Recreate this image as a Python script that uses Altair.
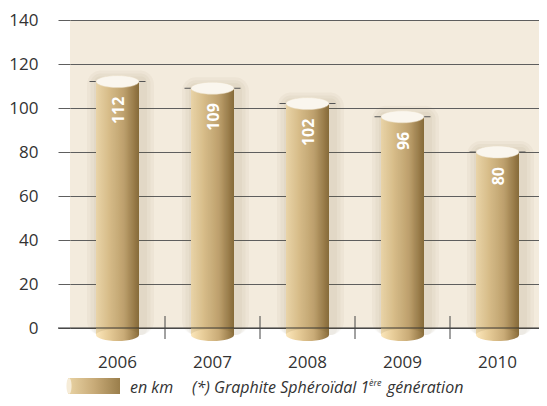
import altair as alt
import pandas as pd

years = ["2006", "2007", "2008", "2009", "2010"]
values = [112, 109, 102, 96, 80]
y_ticks = [0, 20, 40, 60, 80, 100, 120, 140]
legend_unit = "en km"
legend_note = "(*) Graphite Sphéroïdal 1"
legend_sup = "ère"
legend_end = "génération"

FONT = "Open Sans"
W, H = 469, 308
STEP_RANGE = 475

df = pd.DataFrame({"year": years, "value": values})
one = pd.DataFrame({"a": [0]})

body_grad = alt.Gradient(
    gradient="linear", x1=0, x2=1, y1=0, y2=0,
    stops=[
        alt.GradientStop(color="#fbe6ba", offset=0),
        alt.GradientStop(color="#e6cb97", offset=0.3),
        alt.GradientStop(color="#c9ab77", offset=0.65),
        alt.GradientStop(color="#8a6d3b", offset=1),
    ],
)
icon_grad = alt.Gradient(
    gradient="linear", x1=0, x2=1, y1=0, y2=0,
    stops=[
        alt.GradientStop(color="#e9d3a4", offset=0),
        alt.GradientStop(color="#c8ab78", offset=0.5),
        alt.GradientStop(color="#9a7e4b", offset=1),
    ],
)
ELLIPSE = "M -1 0 A 1 0.28 0 1 1 1 0 A 1 0.28 0 1 1 -1 0 Z"

x_axis = alt.Axis(
    title=None, ticks=False, domain=False, grid=False, labelAngle=0,
    labelFont=FONT, labelFontSize=17, labelColor="#333333", labelPadding=26,
)
x_scale = alt.Scale(paddingInner=0, paddingOuter=0, range=[0, STEP_RANGE])
x_enc = alt.X("year:N", sort=years, scale=x_scale, axis=x_axis)

y_scale = alt.Scale(domain=[0, 140], nice=False, zero=True)
y_axis = alt.Axis(
    title=None, values=y_ticks, domain=False, ticks=True, tickSize=12,
    tickColor="#5e5e5e", gridColor="#5e5e5e", grid=True,
    labelFont=FONT, labelFontSize=17, labelColor="#333333", labelPadding=20,
)
y_enc = alt.Y("value:Q", scale=y_scale, axis=y_axis)

base = alt.Chart(df)

zero_line = alt.Chart(one).mark_rule(color="#333333", strokeWidth=1).encode(
    x=alt.value(-12), x2=alt.value(W), y=alt.value(H)
)

separators = base.transform_filter(alt.datum.year != "2006").mark_rule(
    color="#444444", strokeWidth=1
).encode(
    x=alt.X("year:N", sort=years, bandPosition=0, scale=x_scale, axis=x_axis),
    y=alt.value(H - 12), y2=alt.value(H + 11),
)

shadows = [
    base.mark_bar(size=s, color="#6b5530", opacity=0.045, cornerRadius=c,
                  xOffset=3, yOffset=-o, y2Offset=7)
    .encode(x=x_enc, y=y_enc, y2=alt.datum(0))
    for s, o, c in [(67, 11, 14), (60, 8, 10), (53, 5, 6)]
]

top_line = base.mark_tick(size=56, thickness=1, color="#555555", opacity=1).encode(
    x=x_enc, y=y_enc
)

body = base.mark_bar(size=43, color=body_grad, y2Offset=7).encode(
    x=x_enc, y=y_enc, y2=alt.datum(0)
)

bottom_cap = base.mark_point(
    shape=ELLIPSE, size=43 * 43, filled=True, fill=body_grad, opacity=1,
    strokeWidth=0, yOffset=7,
).encode(x=x_enc, y=alt.datum(0, scale=y_scale, axis=y_axis))

top_cap = base.mark_point(
    shape=ELLIPSE, size=43 * 43, filled=True, fill="#faf6ee", opacity=1,
    stroke="#e8dcc4", strokeWidth=0.5,
).encode(x=x_enc, y=y_enc)

labels = base.mark_text(
    angle=270, align="right", baseline="middle", dx=-15, dy=1,
    font=FONT, fontSize=16, fontWeight="bold", color="white",
).encode(x=x_enc, y=y_enc, text="value:Q")

# legend
LY = 358
icon = alt.Chart(one).mark_rect(color=icon_grad).encode(
    x=alt.value(-2), x2=alt.value(50), y=alt.value(LY), y2=alt.value(LY + 16)
)
icon_cap = alt.Chart(one).mark_point(
    shape="M 0 -1 A 0.32 1 0 1 1 0 1 A 0.32 1 0 1 1 0 -1 Z",
    size=16 * 16, filled=True, fill="#f6ecd8", opacity=1, strokeWidth=0,
).encode(x=alt.value(-1), y=alt.value(LY + 8))

def ltext(txt, x, y, size=16):
    return alt.Chart(one).mark_text(
        text=txt, align="left", baseline="alphabetic", font=FONT,
        fontSize=size, fontStyle="italic", color="#333333",
    ).encode(x=alt.value(x), y=alt.value(y))

TB = LY + 14.5
leg1 = ltext(legend_unit, 60, TB)
leg2 = ltext(legend_note, 122, TB)
leg3 = ltext(legend_sup, 299, TB - 7, 9)
leg4 = ltext(legend_end, 317, TB)

chart = alt.layer(
    body, zero_line, separators, *shadows, top_line, bottom_cap, top_cap, labels,
    icon, icon_cap, leg1, leg2, leg3, leg4,
).properties(
    width=W, height=H,
    autosize=alt.AutoSizeParams(type="none"),
    padding={"left": 62, "top": 12, "right": 0, "bottom": 70},
).configure_view(
    fill="#f3ebdd", stroke=None
)

chart.save("out.html", embed_options={"renderer": "svg", "actions": False})
